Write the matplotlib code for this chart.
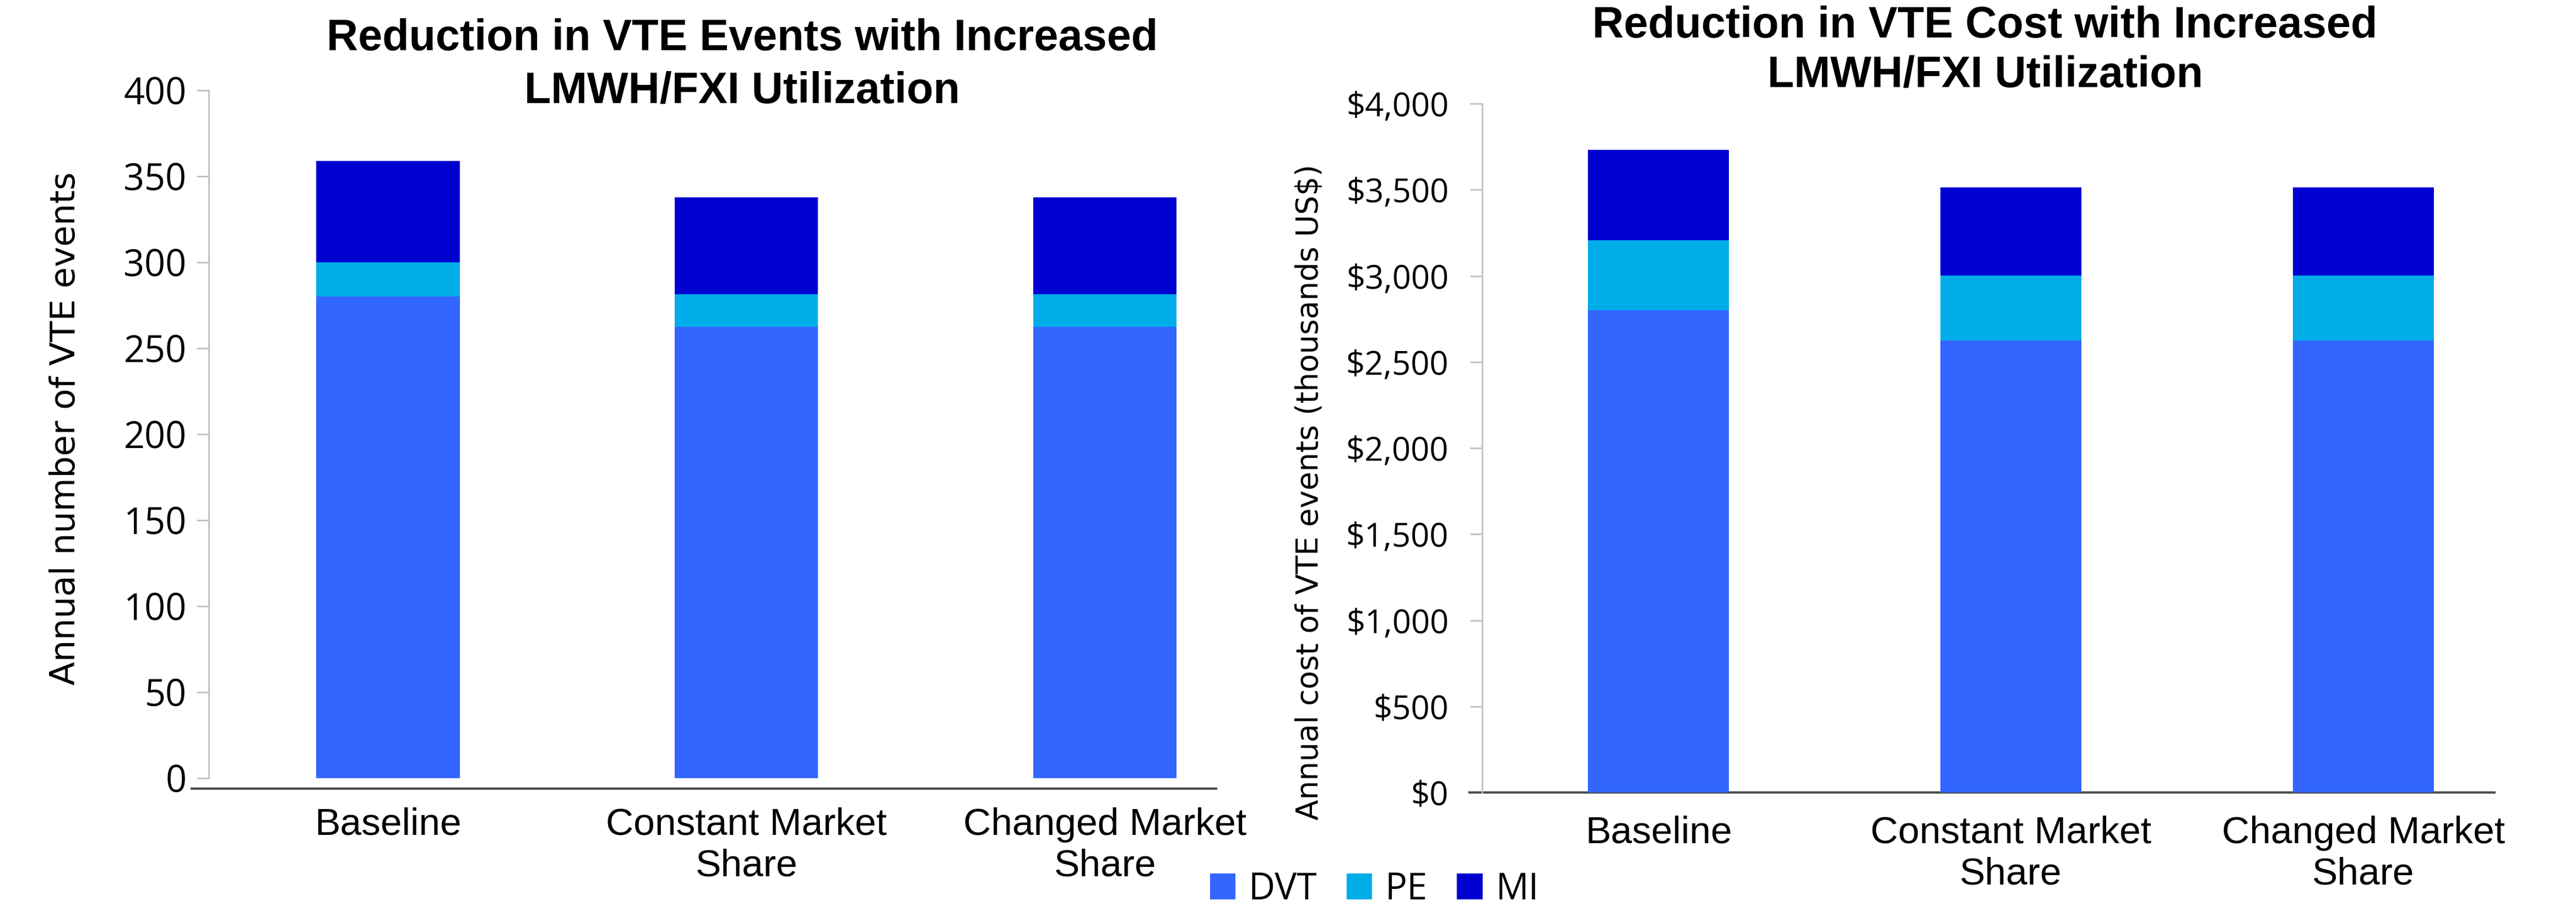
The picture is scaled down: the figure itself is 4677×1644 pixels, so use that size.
import matplotlib
matplotlib.use('Agg')
import matplotlib.pyplot as plt
import numpy as np

# ___CONSTANTS___ #
COLOR_DVT = '#3366FF'
COLOR_PE = '#00ADE8'
COLOR_MI = '#0000D1'
SPINE_GRAY = '#BFBFBF'
AXIS_DARK = '#4D4D4D'
TITLE_FONT = 'Liberation Sans'
TICK_FONT = 'Open Sans'
LABEL_FONT = 'DejaVu Sans'

# Data: scenario categories and stacked components
CATEGORIES = ['Baseline', 'Constant Market\nShare', 'Changed Market\nShare']
SERIES = ['DVT', 'PE', 'MI']

# annual number of VTE events
EVENTS_DVT = [280, 262.5, 262.5]
EVENTS_PE = [20, 19, 19]
EVENTS_MI = [59, 56.5, 56.5]
EVENTS_TICKS = [0, 50, 100, 150, 200, 250, 300, 350, 400]

# annual cost of VTE events (thousands US$)
COST_DVT = [2800, 2625, 2625]
COST_PE = [407, 377, 377]
COST_MI = [524, 511, 511]
COST_TICKS = [0, 500, 1000, 1500, 2000, 2500, 3000, 3500, 4000]


def stacked_bars(ax, dvt, pe, mi, width=0.4):
    x = np.arange(len(CATEGORIES))
    dvt = np.array(dvt)
    pe = np.array(pe)
    mi = np.array(mi)
    ax.bar(x, dvt, width, color=COLOR_DVT, label=SERIES[0], zorder=3)
    ax.bar(x, pe, width, bottom=dvt, color=COLOR_PE, label=SERIES[1], zorder=3)
    ax.bar(x, mi, width, bottom=dvt + pe, color=COLOR_MI, label=SERIES[2], zorder=3)
    ax.set_xticks(x)
    ax.set_xticklabels(CATEGORIES, fontfamily=TITLE_FONT)


def style_axis(ax, tick_size, label_pad, cat_size, cat_pad):
    for side in ['top', 'right', 'bottom']:
        ax.spines[side].set_visible(False)
    ax.spines['left'].set_color(SPINE_GRAY)
    ax.spines['left'].set_linewidth(2)
    ax.tick_params(axis='y', direction='out', length=16, width=2,
                   color=SPINE_GRAY, labelsize=tick_size, pad=label_pad)
    ax.tick_params(axis='x', length=0, labelsize=cat_size, pad=cat_pad)
    for lbl in ax.get_yticklabels():
        lbl.set_fontfamily(TICK_FONT)
    for lbl in ax.get_xticklabels():
        lbl.set_linespacing(1.22)


fig = plt.figure(figsize=(46.77, 16.44), dpi=100)

# Left: number of events
ax1 = fig.add_axes([0.0810, 0.1411, 0.3911, 0.7591])
stacked_bars(ax1, EVENTS_DVT, EVENTS_PE, EVENTS_MI)
ax1.set_xlim(-0.5, 2.31)
ax1.set_ylim(0, 400)
ax1.set_yticks(EVENTS_TICKS)
ax1.set_yticklabels([str(t) for t in EVENTS_TICKS])
style_axis(ax1, 48, 13, 50, 38)
ax1.axhline(-6.1, xmin=-0.017, xmax=1.0, color=AXIS_DARK, lw=3, clip_on=False)
fig.text(0.0255, 0.527, 'Annual number of VTE events', rotation=90,
         ha='center', va='center', fontsize=45, fontfamily=LABEL_FONT)
fig.text(0.2882, 0.928, 'Reduction in VTE Events with Increased\nLMWH/FXI Utilization',
         ha='center', va='center', fontsize=57, fontweight='bold',
         fontfamily=TITLE_FONT, linespacing=1.36)

# Right: cost of events
ax2 = fig.add_axes([0.5754, 0.1253, 0.3930, 0.7603])
stacked_bars(ax2, COST_DVT, COST_PE, COST_MI)
ax2.set_xlim(-0.5, 2.372)
ax2.set_ylim(0, 4000)
ax2.set_yticks(COST_TICKS)
ax2.set_yticklabels(['${:,}'.format(t) for t in COST_TICKS])
style_axis(ax2, 43, 28, 50, 30)
ax2.axhline(0, xmin=-0.0125, xmax=1.0, color=AXIS_DARK, lw=3, clip_on=False)
fig.text(0.5084, 0.457, 'Annual cost of VTE events (thousands US$)', rotation=90,
         ha='center', va='center', fontsize=39.5, fontfamily=LABEL_FONT)
fig.text(0.7706, 0.944, 'Reduction in VTE Cost with Increased\nLMWH/FXI Utilization',
         ha='center', va='center', fontsize=57, fontweight='bold',
         fontfamily=TITLE_FONT, linespacing=1.24)

# Shared legend along the bottom
handles, labels = ax1.get_legend_handles_labels()
fig.legend(handles, labels, loc='center', bbox_to_anchor=(0.5335, 0.018), ncol=3,
           frameon=False, prop={'family': TICK_FONT, 'size': 48},
           handlelength=0.7, handleheight=0.7, handletextpad=0.35,
           columnspacing=0.8, borderaxespad=0)

fig.savefig('out.png', dpi=100, facecolor='white')
